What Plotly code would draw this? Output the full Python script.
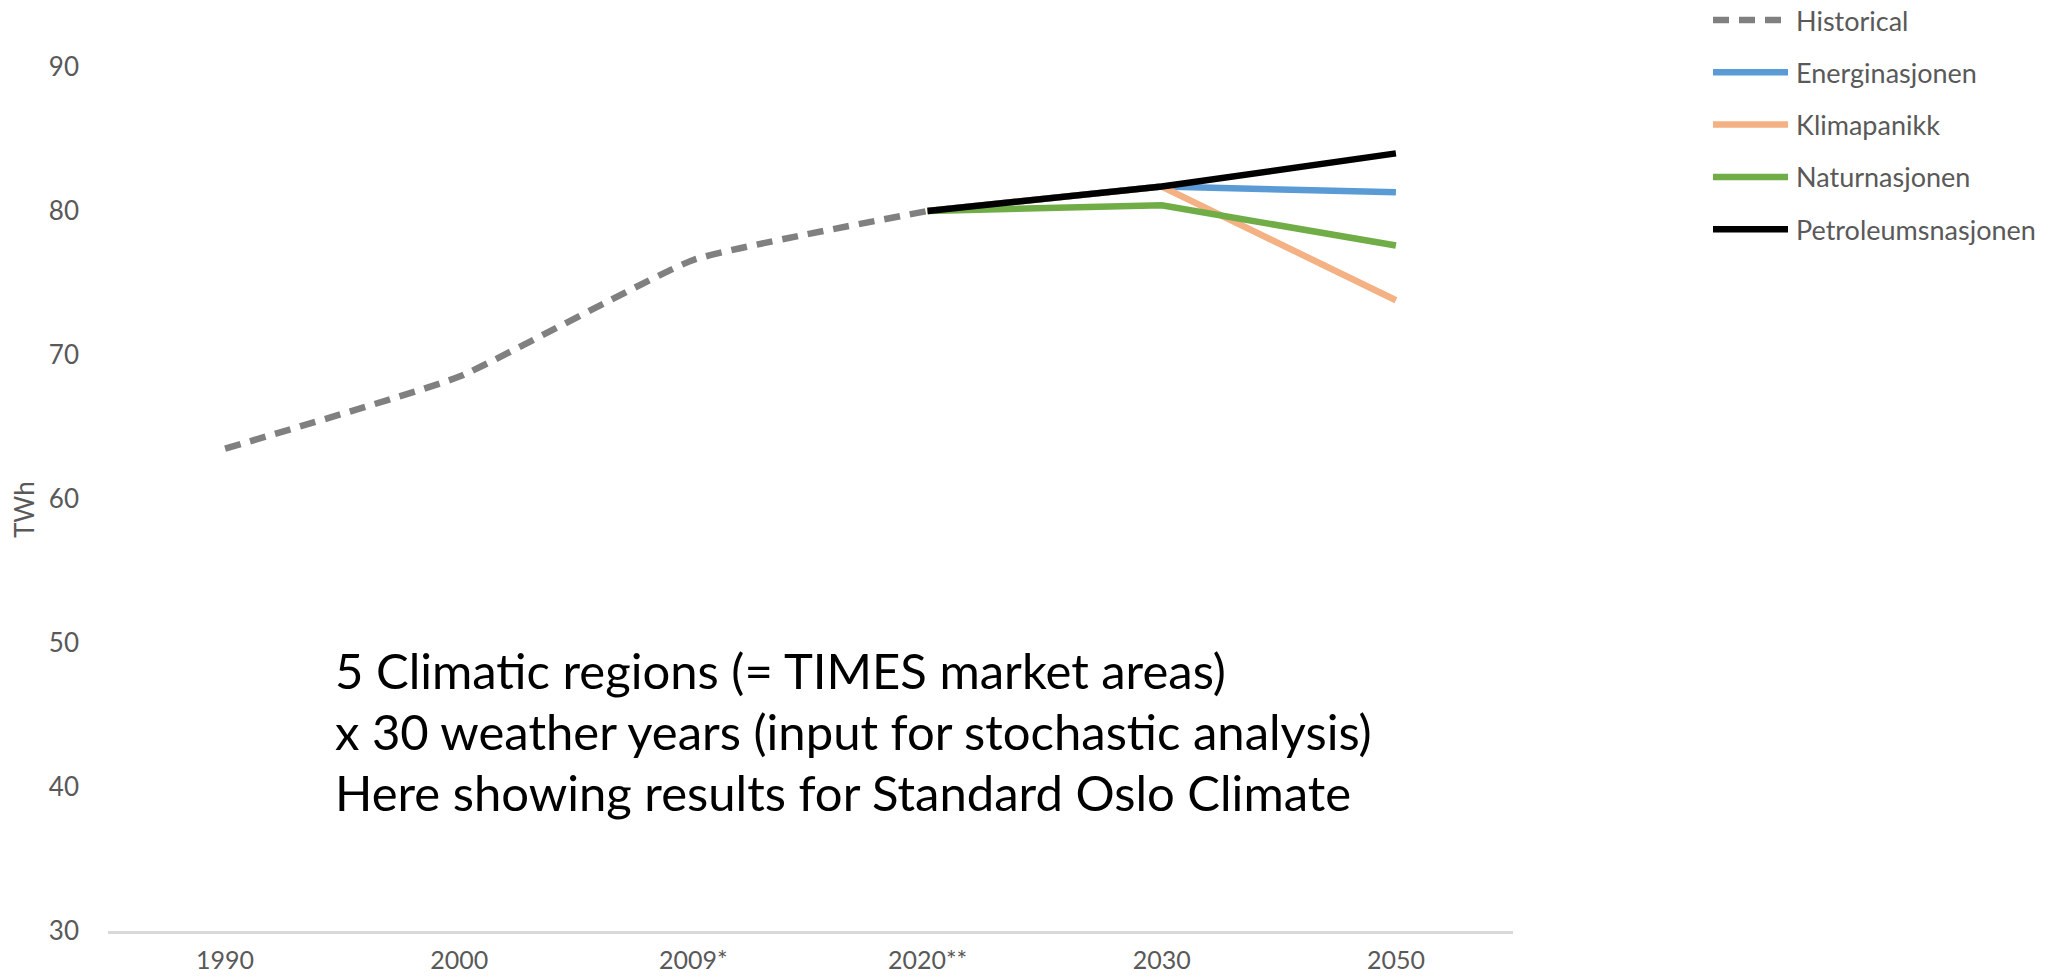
import plotly.graph_objects as go

# Category labels on the x axis
categories = ["1990", "2000", "2009*", "2020**", "2030", "2050"]

# Historical consumption (TWh)
historical = [63.5, 68.5, 76.6, 80.0]

# Scenario projections from 2020** onward (TWh)
scenario_categories = ["2020**", "2030", "2050"]
energinasjonen = [80.0, 81.7, 81.3]
klimapanikk = [80.0, 81.7, 73.8]
naturnasjonen = [80.0, 80.4, 77.6]
petroleumsnasjonen = [80.0, 81.7, 84.0]

series_names = ["Historical", "Energinasjonen", "Klimapanikk", "Naturnasjonen", "Petroleumsnasjonen"]
series_colors = ["#808080", "#5B9BD5", "#F4B183", "#70AD47", "#000000"]

y_ticks = [30, 40, 50, 60, 70, 80, 90]

note_lines = [
    "5 Climatic regions (= TIMES market areas)",
    "x 30 weather years (input for stochastic analysis)",
    "Here showing results for Standard Oslo Climate",
]

# Page geometry (pixels)
W_PAGE, H_PAGE = 2051, 979
L, R, T, B = 108, 538, 67, 48
PW = W_PAGE - L - R
PH = H_PAGE - T - B


def px_x(px):
    return (px - L) / PW


def px_y(py):
    return (H_PAGE - B - py) / PH


LINE_W = 6.5
TEXT_FONT = "Lato"
GRAY_TEXT = "#595959"

fig = go.Figure()

fig.add_trace(go.Scatter(
    x=categories[:len(historical)], y=historical, mode="lines",
    name=series_names[0],
    line=dict(color=series_colors[0], width=LINE_W, dash="16px,10px",
              shape="spline", smoothing=0.4),
    showlegend=False,
))

for name, color, values in zip(series_names[1:], series_colors[1:],
                               [energinasjonen, klimapanikk, naturnasjonen, petroleumsnasjonen]):
    fig.add_trace(go.Scatter(
        x=scenario_categories, y=values, mode="lines", name=name,
        line=dict(color=color, width=LINE_W),
        showlegend=False,
    ))

# Legend drawn as line samples with labels to the right
shapes = []
annotations = []
legend_y0, legend_step = 20, 52.3
for i, (name, color) in enumerate(zip(series_names, series_colors)):
    yc = legend_y0 + i * legend_step
    shapes.append(dict(
        type="line", xref="paper", yref="paper",
        x0=px_x(1713), x1=px_x(1788), y0=px_y(yc), y1=px_y(yc),
        line=dict(color=color, width=LINE_W, dash="16px,10px" if i == 0 else "solid"),
    ))
    annotations.append(dict(
        text=name, xref="paper", yref="paper",
        x=px_x(1794), y=px_y(yc), xanchor="left", yanchor="middle",
        showarrow=False, font=dict(family=TEXT_FONT, size=27, color=GRAY_TEXT),
    ))

# Note text block
for i, line in enumerate(note_lines):
    annotations.append(dict(
        text=line, xref="paper", yref="paper",
        x=px_x(333), y=px_y(670 + i * 61), xanchor="left", yanchor="middle",
        showarrow=False, font=dict(family=TEXT_FONT, size=49, color="#000000"),
    ))

# Axis title
annotations.append(dict(
    text="TWh", xref="paper", yref="paper",
    x=px_x(24), y=px_y(510), xanchor="center", yanchor="middle",
    textangle=-90, showarrow=False,
    font=dict(family=TEXT_FONT, size=26, color=GRAY_TEXT),
))

fig.update_layout(
    width=W_PAGE, height=H_PAGE,
    margin=dict(l=L, r=R, t=T, b=B, pad=0, autoexpand=False),
    paper_bgcolor="white", plot_bgcolor="white",
    showlegend=False,
    shapes=shapes, annotations=annotations,
    font=dict(family=TEXT_FONT, size=26, color=GRAY_TEXT),
)

fig.update_xaxes(
    type="category", categoryorder="array", categoryarray=categories,
    range=[-0.5, len(categories) - 0.5],
    showgrid=False, zeroline=False, automargin=False,
    showline=True, linecolor="#D9D9D9", linewidth=2.5,
    ticks="", ticklabelstandoff=5,
    tickfont=dict(family=TEXT_FONT, size=25, color=GRAY_TEXT),
)

fig.update_yaxes(
    range=[30, 90], tickvals=y_ticks,
    showgrid=False, zeroline=False, showline=False, automargin=False,
    ticks="", ticklabelstandoff=28,
    tickfont=dict(family=TEXT_FONT, size=26, color=GRAY_TEXT),
)

fig.write_html("out.html")
